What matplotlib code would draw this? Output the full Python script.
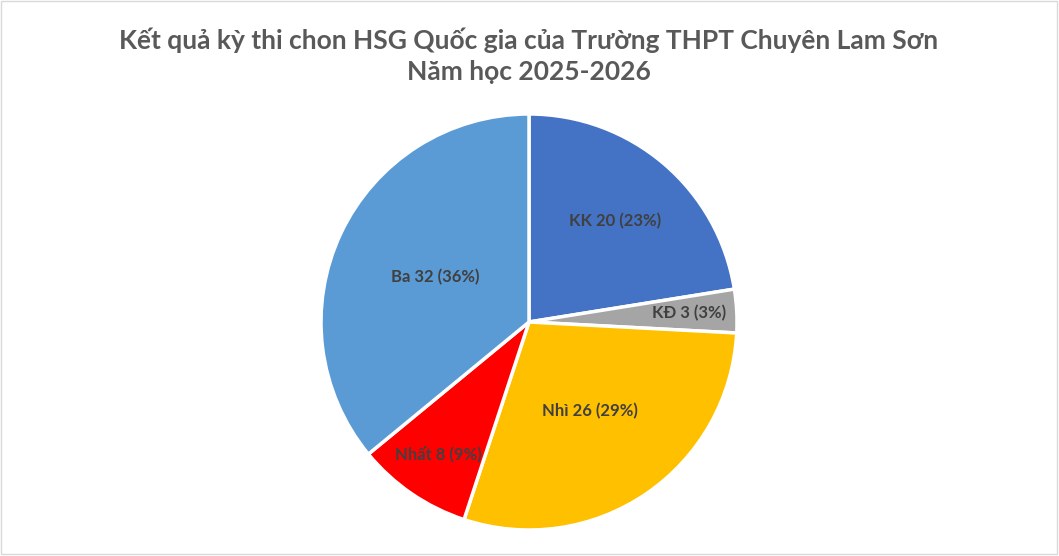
import matplotlib
matplotlib.use("Agg")
import matplotlib.pyplot as plt
import numpy as np

categories = ["KK", "KĐ", "Nhì", "Nhất", "Ba"]
values = [20, 3, 26, 8, 32]
percents = [23, 3, 29, 9, 36]
colors = ["#4472C4", "#A5A5A5", "#FFC000", "#FF0000", "#5B9BD5"]
label_dist = [0.64, 0.77, 0.52, 0.77, 0.50]

plt.rcParams['font.family'] = ['Lato', 'DejaVu Sans']

fig = plt.figure(figsize=(10.59, 5.56), dpi=100)
ax = fig.add_axes([0, 0, 1, 1])
ax.set_xlim(0, 1059)
ax.set_ylim(556, 0)
ax.axis('off')

# pie axes
cx, cy, r = 529, 322, 208
pax = fig.add_axes([(cx - r) / 1059, (556 - cy - r) / 556, 2 * r / 1059, 2 * r / 556])
wedges, _ = pax.pie(values, colors=colors, startangle=90, counterclock=False,
                    wedgeprops=dict(edgecolor="white", linewidth=2.5))
pax.set_xlim(-1, 1)
pax.set_ylim(-1, 1)
pax.set_aspect('auto')

for w, c, v, p, d in zip(wedges, categories, values, percents, label_dist):
    ang = np.deg2rad((w.theta1 + w.theta2) / 2)
    pax.text(d * np.cos(ang), d * np.sin(ang), f"{c} {v} ({p}%)",
             ha="center", va="center", fontsize=12, fontweight="bold", color="#404040")

ax.text(529, 40, "Kết quả kỳ thi chon HSG Quốc gia của Trường THPT Chuyên Lam Sơn",
        ha="center", va="center", fontsize=19, fontweight="bold", color="#595959")
ax.text(529, 72, "Năm học 2025-2026",
        ha="center", va="center", fontsize=19, fontweight="bold", color="#595959")

# border
ax.add_patch(plt.Rectangle((1, 1), 1056, 553, fill=False, edgecolor="#D9D9D9", linewidth=1))

fig.savefig("out.png", dpi=100)
